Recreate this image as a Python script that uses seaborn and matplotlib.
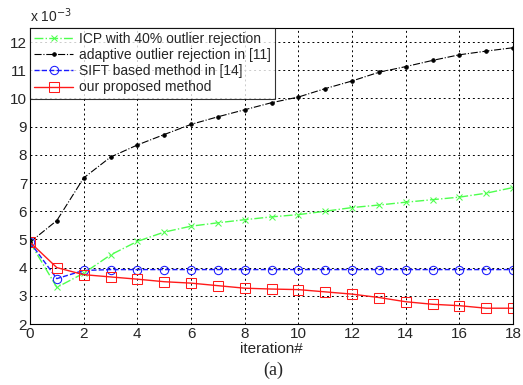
import matplotlib
matplotlib.use("Agg")
import matplotlib.pyplot as plt
import seaborn as sns
import pandas as pd

iterations = list(range(19))
icp_40 = [4.9, 3.3, 3.8, 4.45, 4.93, 5.26, 5.47, 5.59, 5.7, 5.8,
          5.88, 6.0, 6.13, 6.22, 6.32, 6.41, 6.5, 6.64, 6.84]
adaptive = [4.9, 5.67, 7.18, 7.92, 8.35, 8.72, 9.08, 9.35, 9.6, 9.85,
            10.05, 10.35, 10.62, 10.93, 11.13, 11.35, 11.55, 11.68, 11.8]
sift = [4.9, 3.61, 3.9, 3.93, 3.93, 3.93, 3.93, 3.93, 3.93, 3.93,
        3.93, 3.93, 3.93, 3.93, 3.93, 3.93, 3.93, 3.93, 3.93]
proposed = [4.9, 4.0, 3.75, 3.67, 3.59, 3.5, 3.45, 3.36, 3.27, 3.24,
            3.22, 3.14, 3.06, 2.94, 2.79, 2.7, 2.65, 2.56, 2.56]
labels = ["ICP with 40% outlier rejection", "adaptive outlier rejection in [11]",
          "SIFT based method in [14]", "our proposed method"]

sns.set_style("white")
plt.rcParams['font.family'] = ['Liberation Sans', 'DejaVu Sans']

fig = plt.figure(figsize=(5.23, 3.85), dpi=100)
ax = fig.add_axes([30/523, 61/385, 483/523, 296/385])

styles = [
    dict(color=(0.3, 1.0, 0.3), linestyle='-.', marker='x', markersize=4, mfc='none', lw=1),
    dict(color='black', linestyle='-.', marker='.', markersize=5, lw=0.8),
    dict(color=(0.1, 0.1, 1.0), linestyle='--', marker='o', markersize=6, mfc='none', lw=1),
    dict(color=(1.0, 0.1, 0.1), linestyle='-', marker='s', markersize=7, mfc='none', lw=1),
]
for vals, lab, st in zip([icp_40, adaptive, sift, proposed], labels, styles):
    df = pd.DataFrame({"iteration": iterations, "value": vals})
    sns.lineplot(data=df, x="iteration", y="value", ax=ax, label=lab,
                 color=st['color'], linestyle=st['linestyle'], marker=st['marker'],
                 markersize=st['markersize'], markerfacecolor=st.get('mfc', st['color']),
                 markeredgecolor=st['color'], linewidth=st['lw'])

ax.set_xlim(0, 18)
ax.set_ylim(2, 12.5)
ax.set_xticks(range(0, 19, 2))
ax.set_yticks(range(2, 13))
ax.tick_params(labelsize=11, length=0, pad=2)
ax.grid(True, color='black', linestyle=(0, (2, 3)), linewidth=0.7)
for s in ax.spines.values():
    s.set_color('black')
    s.set_linewidth(0.8)
ax.set_xlabel("iteration#", fontsize=11, labelpad=1)
ax.set_ylabel("")
ax.text(0, 1.01, r"x 10$^{-3}$", transform=ax.transAxes, fontsize=10, va='bottom', ha='left')

leg = ax.legend(loc='upper left', fontsize=10, frameon=True, fancybox=False,
                borderaxespad=0, handlelength=2.8, borderpad=0.3, labelspacing=0.15,
                handletextpad=0.4)
leg.get_frame().set_edgecolor('black')
leg.get_frame().set_linewidth(0.8)

fig.text(0.522, 0.038, "(a)", fontsize=13, family=['Liberation Serif'], ha='center', va='center')

fig.savefig("out.png", dpi=100)
